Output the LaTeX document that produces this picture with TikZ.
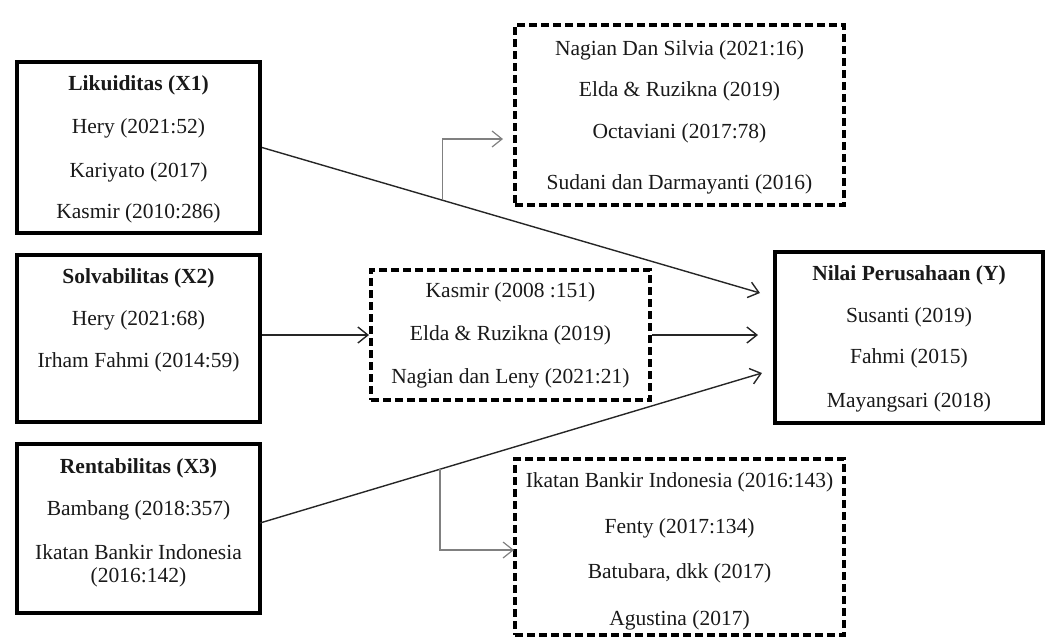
\documentclass[tikz,border=0pt]{standalone}
\usepackage{fontspec}
\setmainfont{Liberation Serif}
\usetikzlibrary{arrows.meta,calc}
\begin{document}
\begin{tikzpicture}[x=0.5pt,y=-0.5pt,
  solidbox/.style={draw=black, line width=2pt, inner sep=0pt},
  dashbox/.style={draw=black, line width=2pt, dash pattern=on 4pt off 2pt, inner sep=0pt},
  lbl/.style={font=\fontsize{10.75pt}{13pt}\selectfont, inner sep=0pt, text=black!90},
  ttl/.style={font=\fontsize{10.75pt}{13pt}\selectfont\bfseries, inner sep=0pt, text=black!90},
  conn/.style={draw=black!85, line width=0.7pt, -{Straight Barb[length=5pt,width=8pt]}},
  branch/.style={draw=gray, line width=0.6pt, -{Straight Barb[length=5pt,width=8pt]}}]
\useasboundingbox (0,0) rectangle (1051,639);

% boxes
\node[solidbox, minimum width=121.5pt, minimum height=85.5pt] (x1) at (138.5,147.5) {};
\node[solidbox, minimum width=121.5pt, minimum height=83.5pt] (x2) at (138.5,338.5) {};
\node[solidbox, minimum width=121.5pt, minimum height=84.5pt] (x3) at (138.5,528.5) {};
\node[solidbox, minimum width=134pt, minimum height=85.5pt] (y) at (909,337.5) {};
\node[dashbox, minimum width=164.5pt, minimum height=90pt] (t) at (679.5,115) {};
\node[dashbox, minimum width=139.5pt, minimum height=65pt] (m) at (510.5,335) {};
\node[dashbox, minimum width=164.5pt, minimum height=88pt] (b) at (679.5,547) {};

% texts
\node[ttl] (x1a) at (138.5,85) {Likuiditas (X1)};
\node[lbl] (x1b) at (138.5,128) {Hery (2021:52)};
\node[lbl] (x1c) at (138.5,172) {Kariyato (2017)};
\node[lbl] (x1d) at (138.5,213) {Kasmir (2010:286)};

\node[ttl] (x2a) at (138.5,278) {Solvabilitas (X2)};
\node[lbl] (x2b) at (138.5,320) {Hery (2021:68)};
\node[lbl] (x2c) at (138.5,362) {Irham Fahmi (2014:59)};

\node[ttl] (x3a) at (138.5,468) {Rentabilitas (X3)};
\node[lbl] (x3b) at (138.5,510) {Bambang (2018:357)};
\node[lbl] (x3c) at (138.5,552) {Ikatan Bankir Indonesia};
\node[lbl] (x3d) at (138.5,577) {(2016:142)};

\node[lbl] (ta) at (679.5,50) {Nagian Dan Silvia (2021:16)};
\node[lbl] (tb) at (679.5,91) {Elda \& Ruzikna (2019)};
\node[lbl] (tc) at (679.5,133) {Octaviani (2017:78)};
\node[lbl] (td) at (679.5,184) {Sudani dan Darmayanti (2016)};

\node[lbl] (ma) at (510.5,292) {Kasmir (2008 :151)};
\node[lbl] (mb) at (510.5,335) {Elda \& Ruzikna (2019)};
\node[lbl] (mc) at (510.5,378) {Nagian dan Leny (2021:21)};

\node[lbl] (ba) at (679.5,482) {Ikatan Bankir Indonesia (2016:143)};
\node[lbl] (bb) at (679.5,528) {Fenty (2017:134)};
\node[lbl] (bc) at (679.5,573) {Batubara, dkk (2017)};
\node[lbl] (bd) at (679.5,620) {Agustina (2017)};

\node[ttl] (ya) at (909,275) {Nilai Perusahaan (Y)};
\node[lbl] (yb) at (909,317) {Susanti (2019)};
\node[lbl] (yc) at (909,358) {Fahmi (2015)};
\node[lbl] (yd) at (909,402) {Mayangsari (2018)};

% connector end points
\coordinate (yin1) at (760,293);
\coordinate (yin3) at (762,373);
\coordinate (x3out) at (260,523);
\coordinate (tin) at (503,139);
\coordinate (bin) at (514,550);
\coordinate (bt) at ($(x1.east)!0.362!(yin1)$);
\coordinate (bbr) at ($(x3out)!0.3586!(yin3)$);

% connectors
\draw[conn] (x1.east) -- (yin1);
\draw[conn] (x2.east |- mb) -- (m.west |- mb);
\draw[conn] (m.east |- mb) -- ([xshift=-7.5pt]y.west |- mb);
\draw[conn] (x3out) -- (yin3);
\draw[branch] (bt) |- (tin);
\draw[branch] (bbr) |- (bin);
\end{tikzpicture}
\end{document}
